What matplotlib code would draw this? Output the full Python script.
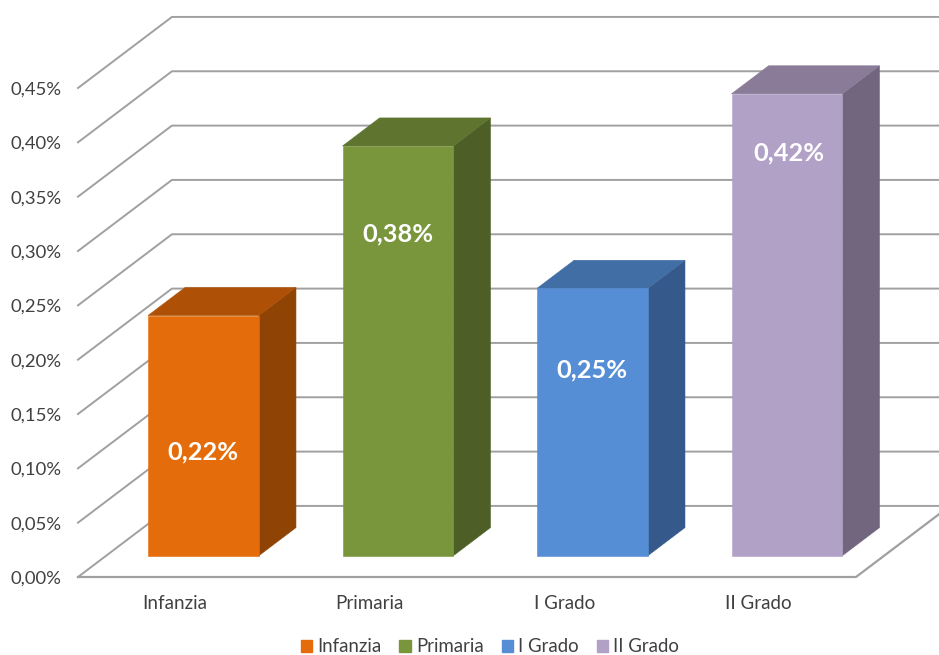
import matplotlib.pyplot as plt
from matplotlib.patches import Patch, Polygon

plt.rcParams['font.family'] = ['Lato', 'DejaVu Sans']

categories = ['Infanzia', 'Primaria', 'I Grado', 'II Grado']
values = [0.221, 0.377, 0.246, 0.425]
valueLabels = ['0,22%', '0,38%', '0,25%', '0,42%']
yTicks = [0.00, 0.05, 0.10, 0.15, 0.20, 0.25, 0.30, 0.35, 0.40, 0.45]
yTickLabels = ['0,00%', '0,05%', '0,10%', '0,15%', '0,20%', '0,25%', '0,30%', '0,35%', '0,40%', '0,45%']

frontColors = ['#E46C0A', '#7A963C', '#558ED5', '#B2A1C7']
topColors = ['#AE5107', '#5F752F', '#426EA6', '#8A7C98']
sideColors = ['#8F4405', '#4D5F26', '#34598A', '#71667E']
gridColor = '#A0A0A0'

# how far the back wall is shifted from the front plane, in data units
depthX = 0.483
depthY = 0.0654
barWidth = 0.57
barDepthStart = 0.3
barDepthEnd = 0.695
# the value labels were placed by hand in the original
labelLevels = [0.115, 0.3156, 0.1904, 0.390]
labelShifts = [0.0, 0.0, 0.0, 0.01]


def project(x, v, d):
    return (x + d * depthX, v + d * depthY)


def drawBar(ax, pos, value, front, top, side):
    x0 = pos - barWidth / 2
    x1 = pos + barWidth / 2
    d0 = barDepthStart
    d1 = barDepthEnd
    faces = [
        ([project(x1, 0, d0), project(x1, value, d0),
          project(x1, value, d1), project(x1, 0, d1)], side),
        ([project(x0, value, d0), project(x1, value, d0),
          project(x1, value, d1), project(x0, value, d1)], top),
        ([project(x0, 0, d0), project(x1, 0, d0),
          project(x1, value, d0), project(x0, value, d0)], front),
    ]
    for pts, color in faces:
        ax.add_patch(Polygon(pts, closed=True, facecolor=color, edgecolor=color,
                             linewidth=0.4, zorder=3, clip_on=False))


fig = plt.figure(figsize=(9.39, 6.55), dpi=100)
ax = fig.add_axes([78 / 939, (655 - 577) / 655, 778 / 939, 489 / 655])
ax.set_xlim(-0.5, 3.5)
ax.set_ylim(0, 0.45)
for spine in ax.spines.values():
    spine.set_visible(False)

# wall gridlines with their diagonal on the left side
for tick in yTicks:
    xs = [-0.5, -0.5 + depthX, 3.5 + depthX]
    ys = [tick, tick + depthY, tick + depthY]
    ax.plot(xs, ys, color=gridColor, linewidth=1.4, clip_on=False, zorder=1)

# floor
ax.plot([-0.5, 3.5, 3.5 + depthX], [0, 0, depthY], color=gridColor, linewidth=1.6,
        clip_on=False, zorder=1)

for i, value in enumerate(values):
    drawBar(ax, i, value, frontColors[i], topColors[i], sideColors[i])
    ax.text(i + barDepthStart * depthX + labelShifts[i], labelLevels[i], valueLabels[i],
            color='white', fontsize=18.3, fontweight='bold', ha='center', va='center', zorder=4)

ax.set_xticks(range(len(categories)), labels=categories, fontsize=13.5, color='#404040')
ax.set_yticks(yTicks, labels=yTickLabels, fontsize=13.3, color='#404040')
ax.tick_params(axis='x', length=0, pad=13)
ax.tick_params(axis='y', length=0, pad=12)

handles = [Patch(facecolor=c, edgecolor=c, label=l) for c, l in zip(frontColors, categories)]
fig.legend(handles=handles, loc='center', bbox_to_anchor=(490 / 939, (655 - 647) / 655),
           ncol=4, frameon=False, fontsize=13.4, labelcolor='#404040', handlelength=0.6,
           handleheight=0.6, handletextpad=0.3, columnspacing=0.95, borderpad=0)

fig.savefig('out.png', dpi=100)
plt.close()
